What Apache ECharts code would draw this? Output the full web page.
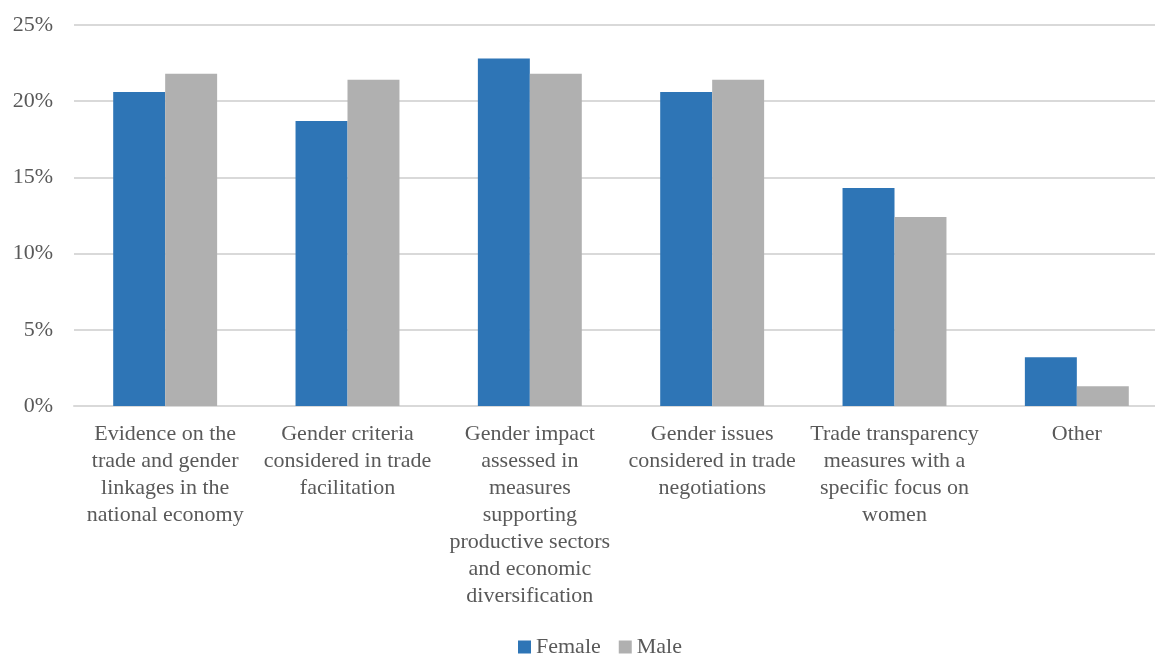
<!DOCTYPE html>
<html>
<head>
<meta charset="utf-8">
<script src="https://cdn.jsdelivr.net/npm/echarts@6/dist/echarts.min.js"></script>
<style>
  html, body { margin: 0; padding: 0; background: #fff; overflow: hidden; }
  /* wider than the window: the plot area runs past the right edge like the original */
  #chart { width: 1175px; height: 655px; }
</style>
</head>
<body>
<div id="chart"></div>
<script>
// categories and values (percent)
const categories = [
  'Evidence on the\ntrade and gender\nlinkages in the\nnational economy',
  'Gender criteria\nconsidered in trade\nfacilitation',
  'Gender impact\nassessed in\nmeasures\nsupporting\nproductive sectors\nand economic\ndiversification',
  'Gender issues\nconsidered in trade\nnegotiations',
  'Trade transparency\nmeasures with a\nspecific focus on\nwomen',
  'Other'
]
const female = [20.6, 18.7, 22.8, 20.6, 14.3, 3.2]
const male = [21.8, 21.4, 21.8, 21.4, 12.4, 1.3]

const fontFamily = '"Liberation Serif", "DejaVu Serif", serif'
const textColor = '#595959'

var myChart = echarts.init(document.getElementById('chart'))
var option = {
  textStyle: { fontFamily: fontFamily },
  animation: false,
  grid: { left: 74, right: 7, top: 25, bottom: 249, containLabel: false },
  legend: {
    left: 513,
    top: 631,
    itemWidth: 13,
    itemHeight: 13,
    itemGap: 18,
    icon: 'rect',
    textStyle: { color: textColor, fontSize: 22, fontFamily: fontFamily },
    data: ['Female', 'Male']
  },
  xAxis: {
    type: 'category',
    data: categories,
    axisTick: { show: false },
    axisLine: { lineStyle: { color: '#d9d9d9', width: 2 } },
    axisLabel: {
      interval: 0,
      color: textColor,
      fontSize: 22,
      lineHeight: 27,
      margin: 15,
      fontFamily: fontFamily
    }
  },
  yAxis: {
    type: 'value',
    min: 0,
    max: 25,
    interval: 5,
    axisLine: { show: false },
    axisTick: { show: false },
    splitLine: { lineStyle: { color: '#d9d9d9', width: 2 } },
    axisLabel: {
      formatter: '{value}%',
      color: textColor,
      fontSize: 22,
      margin: 21,
      fontFamily: fontFamily
    }
  },
  series: [
    {
      name: 'Female',
      type: 'bar',
      data: female,
      barGap: '0%',
      barCategoryGap: '43%',
      itemStyle: { color: '#2E75B6' }
    },
    {
      name: 'Male',
      type: 'bar',
      data: male,
      itemStyle: { color: '#B0B0B0' }
    }
  ]
}
myChart.setOption(option)
</script>
</body>
</html>
